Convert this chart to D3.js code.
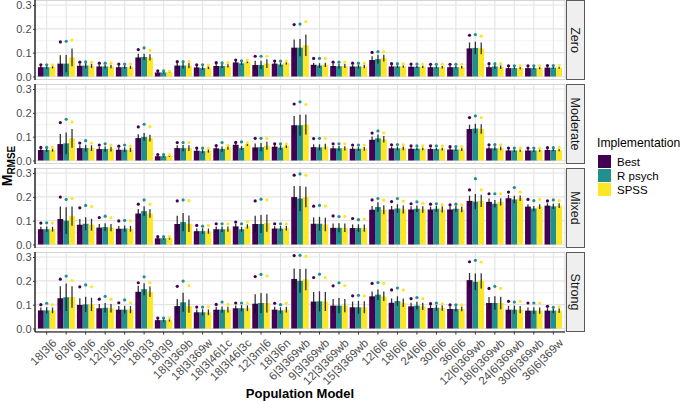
<!DOCTYPE html>
<html><head><meta charset="utf-8">
<script src="https://cdn.jsdelivr.net/npm/d3@7"></script>
<style>
body{margin:0;background:#fff;}
text{font-family:"Liberation Sans",Arial,sans-serif;}
</style></head>
<body><svg id="chart" width="685" height="401"></svg>
<script>
const categories = ["18|3|6","6|3|6","9|3|6","12|3|6","15|3|6","18|3|3","18|3|9","18|3|369b","18|3|369w","18|3|46|1c","18|3|46|3c","12|3m|6","18|3|6n","6|3|369wb","9|3|369wb","12|3|369wb","15|3|369wb","12|6|6","18|6|6","24|6|6","30|6|6","36|6|6","12|6|369wb","18|6|369wb","24|6|369wb","30|6|369wb","36|6|369w"];
const series = ["Best","R psych","SPSS"];
const facets = ["Zero","Moderate","Mixed","Strong"];
const yTicks = [0.0, 0.1, 0.2, 0.3];

// Mean RMSE (bar heights)
const zeroBest   = [.039,.054,.045,.042,.039,.080,.017,.046,.038,.044,.059,.048,.054,.121,.049,.044,.042,.069,.042,.041,.039,.039,.118,.039,.035,.035,.037];
const zeroRpsych = [.039,.054,.046,.042,.040,.082,.017,.046,.035,.044,.055,.048,.050,.121,.046,.043,.042,.073,.042,.041,.039,.039,.120,.042,.035,.035,.037];
const zeroSpss   = [.040,.080,.045,.042,.039,.080,.018,.046,.038,.045,.061,.054,.058,.131,.049,.044,.042,.077,.042,.041,.039,.039,.118,.039,.035,.035,.037];
const modBest    = [.044,.069,.052,.048,.045,.094,.018,.052,.041,.051,.066,.055,.058,.148,.056,.051,.049,.087,.051,.049,.048,.046,.132,.051,.042,.042,.044];
const modRpsych  = [.044,.072,.052,.048,.045,.099,.018,.052,.039,.048,.052,.056,.054,.148,.055,.051,.049,.093,.051,.049,.048,.046,.134,.051,.042,.042,.044];
const modSpss    = [.044,.093,.052,.048,.045,.094,.019,.052,.041,.054,.068,.062,.062,.151,.058,.051,.049,.089,.051,.049,.048,.046,.132,.051,.042,.042,.044];
const mixBest    = [.064,.107,.083,.071,.066,.130,.026,.086,.056,.064,.076,.086,.067,.199,.087,.070,.069,.146,.147,.147,.147,.147,.183,.179,.194,.159,.163];
const mixRpsych  = [.064,.100,.087,.073,.067,.140,.026,.094,.056,.064,.064,.086,.067,.193,.087,.070,.069,.157,.151,.150,.150,.150,.180,.171,.189,.151,.160];
const mixSpss    = [.064,.119,.083,.071,.066,.130,.026,.087,.056,.064,.076,.090,.068,.199,.084,.070,.069,.146,.147,.147,.147,.147,.183,.179,.194,.159,.163];
const strBest    = [.076,.127,.099,.085,.079,.154,.035,.094,.068,.079,.085,.104,.079,.208,.113,.096,.089,.135,.108,.093,.086,.082,.203,.107,.079,.075,.075];
const strRpsych  = [.076,.131,.101,.087,.079,.165,.035,.110,.068,.079,.085,.107,.076,.200,.114,.096,.089,.142,.115,.096,.087,.082,.196,.107,.079,.075,.075];
const strSpss    = [.076,.132,.101,.085,.079,.154,.035,.094,.068,.079,.085,.107,.079,.206,.113,.096,.089,.135,.108,.093,.086,.082,.200,.107,.079,.075,.075];

// Error bar half-widths
const zeroBestErr   = [.007,.035,.010,.008,.008,.015,.004,.012,.008,.008,.006,.018,.008,.034,.008,.009,.008,.016,.006,.005,.005,.005,.025,.008,.005,.005,.005];
const zeroRpsychErr = [.007,.036,.012,.008,.008,.013,.004,.012,.008,.008,.006,.018,.009,.036,.010,.009,.008,.018,.006,.005,.005,.005,.026,.009,.005,.005,.005];
const zeroSpssErr   = [.006,.037,.009,.007,.007,.013,.003,.011,.007,.007,.005,.018,.008,.045,.009,.008,.007,.014,.005,.005,.005,.005,.025,.008,.005,.005,.005];
const modBestErr    = [.007,.042,.012,.010,.009,.016,.004,.012,.008,.010,.007,.016,.010,.039,.012,.010,.009,.014,.008,.006,.006,.006,.018,.008,.005,.005,.005];
const modRpsychErr  = [.008,.046,.014,.011,.010,.016,.004,.013,.009,.011,.008,.017,.010,.044,.013,.010,.009,.016,.008,.006,.006,.006,.020,.009,.005,.005,.005];
const modSpssErr    = [.007,.039,.012,.010,.009,.014,.004,.012,.008,.009,.007,.017,.010,.042,.012,.009,.008,.014,.008,.006,.006,.006,.020,.008,.005,.005,.005];
const mixBestErr    = [.010,.052,.024,.015,.012,.019,.005,.035,.011,.011,.010,.035,.010,.046,.027,.018,.015,.016,.015,.013,.012,.012,.022,.014,.014,.010,.010];
const mixRpsychErr  = [.011,.056,.027,.016,.013,.020,.005,.038,.012,.012,.010,.038,.011,.052,.029,.019,.016,.020,.018,.014,.013,.013,.032,.016,.016,.011,.011];
const mixSpssErr    = [.010,.040,.025,.015,.012,.018,.005,.035,.011,.011,.009,.036,.010,.043,.028,.018,.015,.019,.017,.014,.013,.012,.026,.015,.012,.010,.010];
const strBestErr    = [.012,.050,.028,.018,.015,.025,.006,.030,.012,.012,.012,.040,.012,.044,.040,.028,.024,.020,.018,.015,.012,.010,.030,.025,.016,.013,.010];
const strRpsychErr  = [.013,.058,.032,.020,.016,.025,.006,.040,.013,.013,.013,.042,.013,.050,.042,.032,.027,.022,.020,.016,.013,.011,.035,.028,.017,.014,.011];
const strSpssErr    = [.012,.045,.028,.018,.015,.022,.006,.028,.012,.012,.012,.040,.012,.045,.040,.028,.025,.020,.018,.015,.012,.010,.032,.026,.015,.013,.010];

// Dots above bars
const zeroBestDot   = [.049,.145,.060,.056,.052,.113,.024,.062,.049,.058,.069,.085,.065,.218,.076,.060,.056,.101,.054,.052,.051,.051,.173,.054,.045,.045,.046];
const zeroRpsychDot = [.049,.148,.061,.056,.052,.120,.024,.062,.049,.057,.066,.085,.065,.220,.076,.060,.056,.104,.054,.052,.051,.051,.176,.054,.045,.045,.046];
const zeroSpssDot   = [.049,.153,.060,.056,.052,.110,.022,.062,.048,.058,.069,.085,.065,.230,.076,.060,.056,.104,.053,.052,.051,.051,.169,.054,.045,.045,.046];
const modBestDot    = [.055,.159,.073,.065,.060,.141,.025,.075,.052,.063,.076,.093,.070,.237,.092,.070,.065,.115,.066,.061,.061,.058,.180,.066,.052,.052,.054];
const modRpsychDot  = [.055,.173,.083,.070,.065,.152,.025,.075,.052,.075,.078,.093,.070,.246,.093,.070,.065,.124,.067,.061,.061,.058,.187,.067,.052,.052,.054];
const modSpssDot    = [.055,.162,.073,.065,.060,.142,.025,.075,.052,.064,.075,.093,.070,.235,.093,.070,.065,.116,.066,.061,.061,.058,.180,.066,.052,.052,.054];
const mixBestDot    = [.090,.199,.154,.113,.099,.169,.033,.183,.080,.087,.094,.183,.087,.291,.161,.120,.109,.187,.180,.171,.169,.166,.229,.213,.220,.189,.183];
const mixRpsychDot  = [.091,.189,.164,.119,.101,.187,.033,.187,.077,.087,.087,.190,.087,.296,.164,.117,.104,.193,.193,.179,.171,.169,.276,.213,.239,.184,.187];
const mixSpssDot    = [.090,.193,.159,.113,.099,.169,.033,.184,.080,.087,.095,.187,.087,.291,.162,.118,.107,.186,.182,.173,.167,.166,.229,.213,.220,.189,.184];
const strBestDot    = [.100,.207,.175,.123,.108,.192,.044,.177,.090,.101,.107,.218,.106,.306,.214,.179,.137,.189,.162,.125,.104,.099,.280,.168,.114,.107,.093];
const strRpsychDot  = [.106,.220,.183,.135,.120,.217,.044,.199,.090,.111,.107,.227,.100,.307,.228,.192,.139,.193,.170,.130,.107,.099,.286,.177,.111,.107,.089];
const strSpssDot    = [.100,.201,.175,.123,.108,.192,.044,.180,.091,.101,.107,.220,.106,.303,.214,.180,.137,.189,.162,.125,.104,.099,.279,.168,.114,.107,.091];

const colors = ["#440154","#21908C","#FDE725"];

const panelData = {
  "Zero":     {mean:[zeroBest,zeroRpsych,zeroSpss], err:[zeroBestErr,zeroRpsychErr,zeroSpssErr], dot:[zeroBestDot,zeroRpsychDot,zeroSpssDot]},
  "Moderate": {mean:[modBest,modRpsych,modSpss],    err:[modBestErr,modRpsychErr,modSpssErr],    dot:[modBestDot,modRpsychDot,modSpssDot]},
  "Mixed":    {mean:[mixBest,mixRpsych,mixSpss],    err:[mixBestErr,mixRpsychErr,mixSpssErr],    dot:[mixBestDot,mixRpsychDot,mixSpssDot]},
  "Strong":   {mean:[strBest,strRpsych,strSpss],    err:[strBestErr,strRpsychErr,strSpssErr],    dot:[strBestDot,strRpsychDot,strSpssDot]}
};

const svg = d3.select("#chart");
const panelLeft = 35, panelRight = 565, panelH = 80, panelStep = 84;

const x = d3.scaleBand().domain(categories).range([panelLeft, panelRight]).paddingInner(0).paddingOuter(0.1);
const step = x.step();
const xs = d3.scaleBand().domain(series).range([-0.45*step, 0.45*step]);
const color = d3.scaleOrdinal().domain(series).range(colors);

facets.forEach((f, fi) => {
  const top = fi * panelStep;
  const y = d3.scaleLinear().domain([-0.0147, 0.321]).range([top + panelH, top]);
  const g = svg.append("g");
  g.append("rect").attr("x", panelLeft).attr("y", top).attr("width", panelRight - panelLeft).attr("height", panelH).attr("fill", "#fff");
  [0.05, 0.15, 0.25].forEach(v => {
    g.append("line").attr("x1", panelLeft).attr("x2", panelRight).attr("y1", y(v)).attr("y2", y(v)).attr("stroke", "#ebebeb").attr("stroke-width", 0.6);
  });
  yTicks.forEach(v => {
    g.append("line").attr("x1", panelLeft).attr("x2", panelRight).attr("y1", y(v)).attr("y2", y(v)).attr("stroke", "#e4e4e4").attr("stroke-width", 1.1);
  });
  categories.forEach(c => {
    const cx = x(c) + x.bandwidth()/2;
    g.append("line").attr("x1", cx).attr("x2", cx).attr("y1", top).attr("y2", top + panelH).attr("stroke", "#e4e4e4").attr("stroke-width", 1.1);
  });
  const pd = panelData[f];
  series.forEach((s, si) => {
    g.selectAll(null).data(categories).enter().append("rect")
      .attr("x", (c) => x(c) + x.bandwidth()/2 + xs(s))
      .attr("width", xs.bandwidth())
      .attr("y", (c, i) => y(pd.mean[si][i]))
      .attr("height", (c, i) => y(0) - y(pd.mean[si][i]))
      .attr("fill", color(s));
  });
  series.forEach((s, si) => {
    g.selectAll(null).data(categories).enter().append("line")
      .attr("x1", c => x(c) + x.bandwidth()/2 + xs(s) + xs.bandwidth()/2)
      .attr("x2", c => x(c) + x.bandwidth()/2 + xs(s) + xs.bandwidth()/2)
      .attr("y1", (c, i) => y(pd.mean[si][i] - pd.err[si][i]))
      .attr("y2", (c, i) => y(pd.mean[si][i] + pd.err[si][i]))
      .attr("stroke", "#111").attr("stroke-opacity", 0.85).attr("stroke-width", 1.3);
  });
  series.forEach((s, si) => {
    g.selectAll(null).data(categories).enter().append("circle")
      .attr("cx", c => x(c) + x.bandwidth()/2 + xs(s) + xs.bandwidth()/2)
      .attr("cy", (c, i) => y(pd.dot[si][i]))
      .attr("r", 1.6)
      .attr("fill", color(s));
  });
  g.append("rect").attr("x", panelLeft).attr("y", top + 0.5).attr("width", panelRight - panelLeft).attr("height", panelH - 1)
    .attr("fill", "none").attr("stroke", "#d4d4d4").attr("stroke-width", 1);
  const ya = g.append("g").attr("transform", `translate(${panelLeft},0)`)
    .call(d3.axisLeft(y).tickValues(yTicks).tickFormat(d3.format(".1f")).tickSize(2).tickPadding(1.5));
  ya.select(".domain").attr("d", `M0,${top}V${top+panelH}`).attr("stroke", "#000").attr("stroke-width", 1.2);
  ya.selectAll(".tick line").attr("stroke", "#333");
  ya.selectAll(".tick text").attr("fill", "#4d4d4d").attr("font-size", "11px").attr("font-family", "Liberation Sans, Arial, sans-serif");
  g.append("rect").attr("x", panelRight + 1.5).attr("y", top + 0.5).attr("width", 18).attr("height", panelH - 1)
    .attr("fill", "#efefef").attr("stroke", "#5a5a5a").attr("stroke-width", 1);
  g.append("text").attr("transform", `translate(${panelRight + 10.5},${top + panelH/2}) rotate(90)`)
    .attr("text-anchor", "middle").attr("dy", "0.35em").attr("font-size", "12.5px").attr("fill", "#1a1a1a").text(f);

  if (fi === facets.length - 1) {
    const xa = g.append("g").attr("transform", `translate(0,${top + panelH})`)
      .call(d3.axisBottom(x).tickSize(2.5).tickPadding(2));
    xa.select(".domain").attr("d", `M${panelLeft},0H${panelRight}`).attr("stroke", "#000").attr("stroke-width", 1.2);
    xa.selectAll(".tick line").attr("stroke", "#333");
    xa.selectAll(".tick text")
      .attr("fill", "#4d4d4d").attr("font-size", "11.5px").attr("font-family", "Liberation Sans, Arial, sans-serif")
      .attr("text-anchor", "end").attr("dy", null).attr("y", 0)
      .attr("transform", "translate(5,6) rotate(-45)").attr("dominant-baseline", "hanging");
  }
});

svg.append("text").attr("x", (panelLeft + panelRight)/2).attr("y", 398).attr("text-anchor", "middle")
  .attr("font-size", "13px").attr("font-weight", "bold").attr("fill", "#000").text("Population Model");
const yt = svg.append("text").attr("transform", "translate(12,166) rotate(-90)").attr("text-anchor", "middle")
  .attr("font-weight", "bold").attr("fill", "#000");
yt.append("tspan").attr("font-size", "14px").text("M");
yt.append("tspan").attr("font-size", "10px").attr("dy", "3").text("RMSE");

const lg = svg.append("g").attr("transform", "translate(597,0)");
lg.append("text").attr("x", 0).attr("y", 147).attr("font-size", "12.2px").attr("fill", "#000").text("Implementation");
series.forEach((s, i) => {
  lg.append("rect").attr("x", 1).attr("y", 155 + i*14).attr("width", 13).attr("height", 13).attr("fill", color(s));
  lg.append("text").attr("x", 20).attr("y", 161.5 + i*14).attr("dy", "0.35em").attr("font-size", "11.5px").attr("fill", "#000").text(s);
});
</script></body></html>
